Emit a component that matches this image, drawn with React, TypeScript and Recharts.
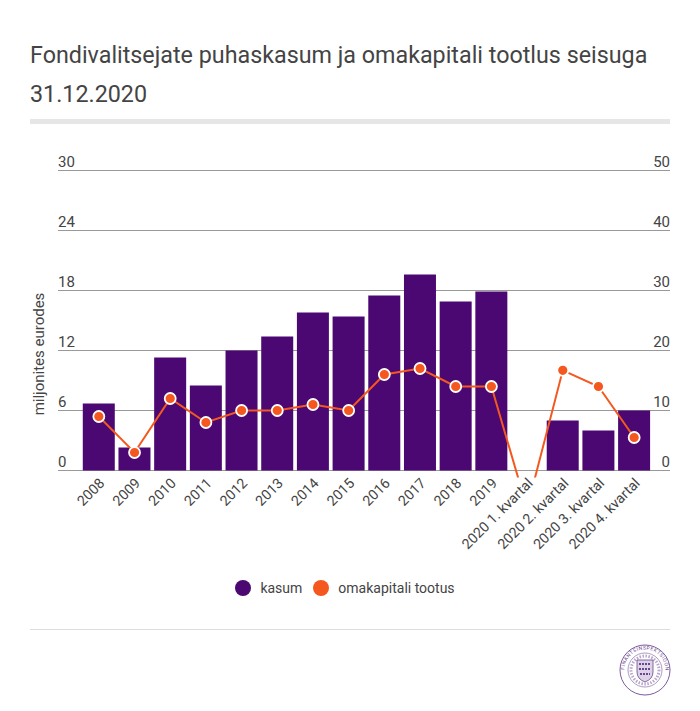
import React from "react";
import { ComposedChart, Bar, Line, XAxis, YAxis, CartesianGrid, Legend } from "recharts";

const titleLines = ["Fondivalitsejate puhaskasum ja omakapitali tootlus seisuga", "31.12.2020"];
const categories = ["2008", "2009", "2010", "2011", "2012", "2013", "2014", "2015", "2016", "2017", "2018", "2019", "2020 1. kvartal", "2020 2. kvartal", "2020 3. kvartal", "2020 4. kvartal"];
const kasum = [6.7, 2.3, 11.3, 8.5, 12, 13.4, 15.8, 15.4, 17.5, 19.6, 16.9, 17.9, null, 5, 4, 6];
const tootus = [9, 3, 12, 8, 10, 10, 11, 10, 16, 17, 14, 14, -6.3, 16.7, 14, 5.5];
const leftTicks = [0, 6, 12, 18, 24, 30];
const rightTicks = [0, 10, 20, 30, 40, 50];
const rows = categories.map((c, i) => ({ name: c, kasum: kasum[i], tootus: tootus[i] }));

const FONT = "Roboto, sans-serif";
const TEXT = "#444444";
const PURPLE = "#4b0872";
const ORANGE = "#f4581f";

const LeftTick = (p: any) => (
  <text x={58} y={p.y - 3.5} textAnchor="start" fontFamily={FONT} fontSize={15} fill={TEXT}>{p.payload.value}</text>
);
const RightTick = (p: any) => (
  <text x={670} y={p.y - 3.5} textAnchor="end" fontFamily={FONT} fontSize={15} fill={TEXT}>{p.payload.value}</text>
);
const BottomTick = (p: any) => (
  <text transform={`translate(${p.x + 4},${p.y - 4}) rotate(-45)`} textAnchor="end" dominantBaseline="middle" fontFamily={FONT} fontSize={14.2} fill={TEXT}>{p.payload.value}</text>
);

const LegendContent = (p: any) => (
  <div style={{ display: "flex", justifyContent: "center", alignItems: "center", fontFamily: FONT, fontSize: 14, color: TEXT, paddingRight: 10 }}>
    {(p.payload || []).map((e: any, i: number) => (
      <div key={e.value} style={{ display: "flex", alignItems: "center", marginLeft: i ? 11 : 0 }}>
        <span style={{ width: 16, height: 16, borderRadius: 8, background: e.color, display: "inline-block", marginRight: 9 }} />
        <span>{e.value}</span>
      </div>
    ))}
  </div>
);

const Seal = () => (
  <svg width={52} height={52} viewBox="0 0 52 52" style={{ position: "absolute", left: 619, top: 644 }}>
    <defs>
      <path id="sealArc" d="M 5.5 26 A 20.5 20.5 0 1 1 46.5 26 A 20.5 20.5 0 1 1 5.5 26" />
    </defs>
    <circle cx={26} cy={26} r={25} fill="none" stroke="#7c5a9c" strokeWidth={1} />
    <circle cx={26} cy={26} r={17} fill="none" stroke="#9a80b4" strokeWidth={0.8} />
    <circle cx={26} cy={26} r={14} fill="none" stroke="#b9a6cb" strokeWidth={3} strokeDasharray="1.5 1.5" />
    <text fontFamily={FONT} fontSize={5} fill="#6a4590" letterSpacing={0.5}>
      <textPath href="#sealArc">FINANTSINSPEKTSIOON</textPath>
    </text>
    <path d="M18 16 H34 V28 Q34 35 26 38 Q18 35 18 28 Z" fill="#ddd2e6" stroke="#6a4590" strokeWidth={0.8} />
    <path d="M20 20 H32 M20 25 H32 M21 30 H31" stroke="#6a4590" strokeWidth={2} strokeDasharray="2 1" />
  </svg>
);

export default function App() {
  return (
    <div style={{ position: "absolute", left: 0, top: 0, width: 700, height: 711, background: "#fff", overflow: "hidden" }}>
      <div style={{ position: "absolute", left: 30, top: 36, width: 650, fontFamily: FONT, fontSize: 23.3, lineHeight: "39px", color: TEXT, whiteSpace: "nowrap" }}>
        {titleLines.map((t) => <div key={t}>{t}</div>)}
      </div>
      <div style={{ position: "absolute", left: 30, top: 119, width: 640, height: 5, background: "#e6e6e6" }} />
      <ComposedChart
        width={700}
        height={711}
        data={rows}
        margin={{ top: 170.5, right: 0, bottom: 133.5, left: 20 }}
        barCategoryGap="5%"
        style={{ position: "absolute", left: 0, top: 0 }}
      >
        <CartesianGrid yAxisId="l" vertical={false} syncWithTicks stroke="#999999" strokeWidth={1} />
        <XAxis dataKey="name" interval={0} height={100} axisLine={false} tickLine={false} padding={{ left: 23, right: 18 }} tick={<BottomTick />} />
        <YAxis
          yAxisId="l"
          orientation="left"
          width={38}
          domain={[-0.7, 30]}
          allowDataOverflow
          ticks={leftTicks}
          axisLine={false}
          tickLine={false}
          tick={<LeftTick />}
          label={{ value: "miljonites eurodes", angle: -90, position: "insideLeft", offset: 0, dx: 19, dy: 30, style: { fontFamily: FONT, fontSize: 15, fill: TEXT, textAnchor: "middle" } }}
        />
        <YAxis
          yAxisId="r"
          orientation="right"
          width={30}
          domain={[-7 / 6, 50]}
          allowDataOverflow
          ticks={rightTicks}
          axisLine={false}
          tickLine={false}
          tick={<RightTick />}
        />
        <Bar yAxisId="l" dataKey="kasum" name="kasum" fill={PURPLE} isAnimationActive={false} />
        <Line
          yAxisId="r"
          dataKey="tootus"
          name="omakapitali tootus"
          stroke={ORANGE}
          strokeWidth={2}
          dot={{ r: 5.5, fill: ORANGE, stroke: "#ffffff", strokeWidth: 1.8 }}
          isAnimationActive={false}
        />
        <Legend
          layout="horizontal"
          verticalAlign="middle"
          align="center"
          wrapperStyle={{ top: 580, left: 0, width: 700 }}
          content={<LegendContent />}
        />
      </ComposedChart>
      <div style={{ position: "absolute", left: 30, top: 629, width: 640, height: 1, background: "#dddddd" }} />
      <Seal />
    </div>
  );
}
